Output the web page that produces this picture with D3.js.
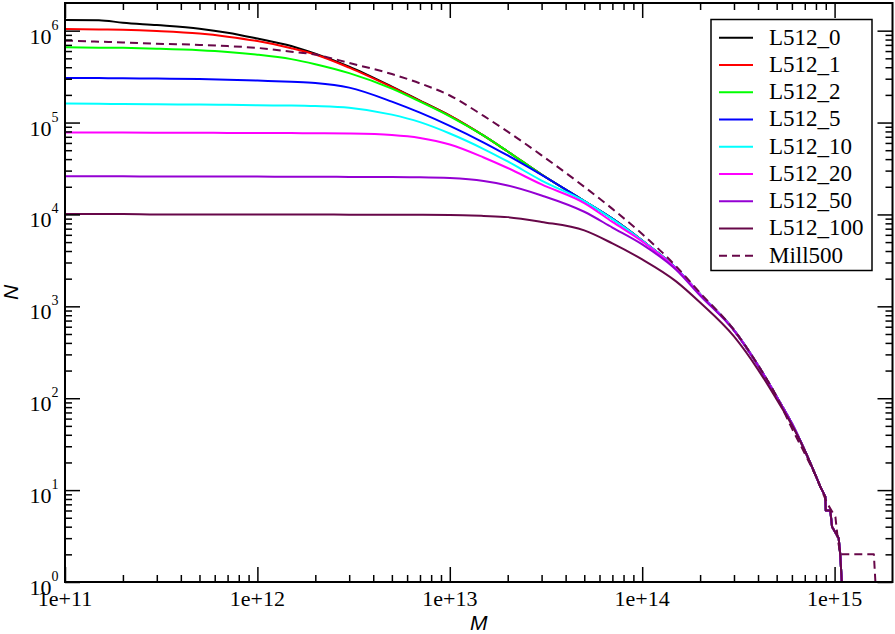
<!DOCTYPE html>
<html>
<head>
<meta charset="utf-8">
<script src="https://cdn.jsdelivr.net/npm/d3@7"></script>
<style>
  body { margin: 0; background: #fff; }
  .serif { font-family: "Liberation Serif", "Times New Roman", serif; }
  .sans { font-family: "Liberation Sans", Arial, sans-serif; font-style: italic; }
</style>
</head>
<body>
<div id="my_dataviz"></div>
<script>

// masses (x) shared by every run
var massGrid = [1e11, 1.5e11, 2e11, 3e11, 5e11, 7e11, 1e12, 1.5e12, 2e12, 3e12, 5e12, 7e12,
                1e13, 1.5e13, 2e13, 3e13, 5e13, 7e13, 1e14, 1.5e14, 2e14, 3e14, 4e14, 5e14,
                6e14, 7e14, 8e14];

// cumulative counts N(>M) for each run
var nL512_0   = [1.31e6, 1.30e6, 1.22e6, 1.15e6, 1.05e6, 9.5e5, 8.2e5, 6.8e5, 5.6e5, 4.06e5, 2.46e5, 1.73e5,
                 1.19e5, 7.2e4, 4.84e4, 2.72e4, 1.4e4, 9.0e3, 5.2e3, 2.6e3, 1.36e3, 550, 228, 104, 53, 27, 14.2];
var nL512_1   = [1.04e6, 1.03e6, 1.02e6, 9.9e5, 9.3e5, 8.6e5, 7.7e5, 6.45e5, 5.5e5, 3.96e5, 2.43e5, 1.72e5,
                 1.19e5, 7.2e4, 4.84e4, 2.72e4, 1.4e4, 9.0e3, 5.2e3, 2.6e3, 1.36e3, 550, 228, 104, 53, 27, 14.2];
var nL512_2   = [6.58e5, 6.53e5, 6.5e5, 6.37e5, 6.13e5, 5.87e5, 5.48e5, 4.9e5, 4.32e5, 3.45e5, 2.34e5, 1.69e5,
                 1.17e5, 7.2e4, 4.84e4, 2.72e4, 1.4e4, 9.0e3, 5.2e3, 2.6e3, 1.36e3, 550, 228, 104, 53, 27, 14.2];
var nL512_5   = [3.06e5, 3.05e5, 3.03e5, 3.01e5, 2.97e5, 2.93e5, 2.86e5, 2.78e5, 2.7e5, 2.4e5, 1.69e5, 1.28e5,
                 9.2e4, 6.06e4, 4.38e4, 2.69e4, 1.4e4, 9.0e3, 5.2e3, 2.6e3, 1.36e3, 550, 228, 104, 53, 27, 14.2];
var nL512_10  = [1.61e5, 1.6e5, 1.59e5, 1.58e5, 1.57e5, 1.56e5, 1.54e5, 1.53e5, 1.51e5, 1.45e5, 1.22e5, 1.01e5,
                 7.6e4, 5.15e4, 3.77e4, 2.34e4, 1.4e4, 8.9e3, 5.2e3, 2.6e3, 1.36e3, 550, 228, 104, 53, 27, 14.2];
var nL512_20  = [7.8e4, 7.8e4, 7.78e4, 7.76e4, 7.74e4, 7.72e4, 7.7e4, 7.68e4, 7.65e4, 7.59e4, 7.31e4, 6.79e4,
                 5.77e4, 4.17e4, 3.2e4, 2.12e4, 1.33e4, 8.3e3, 5.09e3, 2.58e3, 1.35e3, 550, 228, 104, 53, 27, 14.2];
var nL512_50  = [2.6e4, 2.6e4, 2.6e4, 2.59e4, 2.59e4, 2.58e4, 2.58e4, 2.57e4, 2.57e4, 2.56e4, 2.55e4, 2.54e4,
                 2.49e4, 2.31e4, 2.07e4, 1.61e4, 1.07e4, 7.2e3, 4.72e3, 2.5e3, 1.31e3, 545, 226, 103, 53, 27, 14.2];
var nL512_100 = [1.01e4, 1.01e4, 1.01e4, 1.0e4, 1.0e4, 1.0e4, 1.0e4, 9.98e3, 9.97e3, 9.95e3, 9.93e3, 9.9e3,
                 9.88e3, 9.63e3, 9.35e3, 8.28e3, 6.7e3, 4.84e3, 3.24e3, 1.87e3, 1.1e3, 470, 205, 97, 51, 27, 14.2];
var nMill500  = [7.79e5, 7.59e5, 7.45e5, 7.22e5, 7.0e5, 6.79e5, 6.49e5, 5.91e5, 5.5e5, 4.45e5, 3.37e5, 2.67e5,
                 1.97e5, 1.18e5, 7.96e4, 4.4e4, 2.0e4, 1.15e4, 6.12e3, 2.73e3, 1.4e3, 555, 230, 104, 47, 25, 14.2];

// high-mass tail (few haloes, step-like), common to the L512 runs
var tailMass = [8.43e14, 8.95e14, 9.0e14, 9.5e14, 9.7e14, 1.05e15, 1.07e15, 1.09e15];
var tailN    = [10.9, 8.5, 6, 6, 4, 3, 2, 1];
// tail of the Millennium run
var millTailMass = [9.14e14, 1.01e15, 1.04e15, 1.07e15, 1.6e15, 1.63e15];
var millTailN    = [7.2, 5.1, 2.9, 2, 2, 1];

var seriesNames  = ["L512_0", "L512_1", "L512_2", "L512_5", "L512_10", "L512_20", "L512_50", "L512_100", "Mill500"];
var seriesColors = ["#000000", "#ff0000", "#00ff00", "#0000ff", "#00ffff", "#ff00ff", "#9400d3", "#670748", "#670748"];
var seriesValues = [nL512_0, nL512_1, nL512_2, nL512_5, nL512_10, nL512_20, nL512_50, nL512_100, nMill500];

var xMajor = [1e11, 1e12, 1e13, 1e14, 1e15];
var xLabels = ["1e+11", "1e+12", "1e+13", "1e+14", "1e+15"];
var yMajor = [1, 10, 100, 1e3, 1e4, 1e5, 1e6];
var yExp = ["0", "1", "2", "3", "4", "5", "6"];

var W = 895, H = 634;
var plot = {left: 65, right: 892.5, top: 3, bottom: 582};

var svg = d3.select("#my_dataviz")
    .append("svg")
    .attr("width", W)
    .attr("height", H);

var x = d3.scaleLog().domain([1e11, 2e15]).range([plot.left, plot.right]);
var y = d3.scaleLog().domain([1, 2e6]).range([plot.bottom, plot.top]);

// minor ticks 2..9 in each decade
function minors(lo, hi) {
    var out = [];
    for (var e = lo; e <= hi; e++)
        for (var m = 2; m <= 9; m++)
            out.push(m * Math.pow(10, e));
    return out;
}
var xMinor = minors(11, 15).filter(function(v) { return v < 2e15; });
var yMinor = minors(0, 6).filter(function(v) { return v < 2e6; });

// clip for curves
svg.append("clipPath").attr("id", "clip")
    .append("rect")
    .attr("x", plot.left).attr("y", plot.top)
    .attr("width", plot.right - plot.left)
    .attr("height", plot.bottom - plot.top);

// smooth part (monotone in pixel space) + step-like tail (straight segments)
var smooth = d3.line()
    .x(function(d) { return x(d[0]); })
    .y(function(d) { return y(d[1]); })
    .curve(d3.curveMonotoneX);
var straight = d3.line()
    .x(function(d) { return x(d[0]); })
    .y(function(d) { return y(d[1]); });

var curves = svg.append("g").attr("clip-path", "url(#clip)");
seriesValues.forEach(function(vals, i) {
    var pts = massGrid.map(function(m, j) { return [m, vals[j]]; });
    var tm = i == 8 ? millTailMass : tailMass;
    var tn = i == 8 ? millTailN : tailN;
    var tail = [pts[pts.length - 1]];
    tm.forEach(function(m, j) { tail.push([m, tn[j]]); });
    var d = smooth(pts) + straight(tail).replace(/^M[^L]*/, "");
    curves.append("path")
        .attr("d", d)
        .style("fill", "none")
        .style("stroke", seriesColors[i])
        .style("stroke-width", 2)
        .style("stroke-linejoin", "round")
        .style("stroke-dasharray", i == 8 ? "8,5" : null);
});

// axes with inward ticks on all four sides
function axisStyle(g) {
    g.select(".domain").remove();
    g.selectAll(".tick line").style("stroke", "#000").style("stroke-width", 1.5);
}
svg.append("g").attr("transform", "translate(0," + plot.bottom + ")")
    .call(d3.axisBottom(x).tickValues(xMinor).tickSize(-7).tickFormat(""))
    .call(axisStyle);
svg.append("g").attr("transform", "translate(0," + plot.bottom + ")")
    .call(d3.axisBottom(x).tickValues(xMajor).tickSize(-15).tickFormat(""))
    .call(axisStyle);
svg.append("g").attr("transform", "translate(0," + plot.top + ")")
    .call(d3.axisTop(x).tickValues(xMinor).tickSize(-7).tickFormat(""))
    .call(axisStyle);
svg.append("g").attr("transform", "translate(0," + plot.top + ")")
    .call(d3.axisTop(x).tickValues(xMajor).tickSize(-15).tickFormat(""))
    .call(axisStyle);
svg.append("g").attr("transform", "translate(" + plot.left + ",0)")
    .call(d3.axisLeft(y).tickValues(yMinor).tickSize(-7).tickFormat(""))
    .call(axisStyle);
svg.append("g").attr("transform", "translate(" + plot.left + ",0)")
    .call(d3.axisLeft(y).tickValues(yMajor).tickSize(-15).tickFormat(""))
    .call(axisStyle);
svg.append("g").attr("transform", "translate(" + plot.right + ",0)")
    .call(d3.axisRight(y).tickValues(yMinor).tickSize(-7).tickFormat(""))
    .call(axisStyle);
svg.append("g").attr("transform", "translate(" + plot.right + ",0)")
    .call(d3.axisRight(y).tickValues(yMajor).tickSize(-15).tickFormat(""))
    .call(axisStyle);

// frame
svg.append("rect")
    .attr("x", plot.left).attr("y", plot.top)
    .attr("width", plot.right - plot.left)
    .attr("height", plot.bottom - plot.top)
    .style("fill", "none")
    .style("stroke", "#000")
    .style("stroke-width", 2);

// x tick labels
svg.selectAll(".xlab")
    .data(xMajor)
    .enter()
    .append("text")
    .attr("class", "serif")
    .attr("x", function(d) { return x(d); })
    .attr("y", 606)
    .attr("text-anchor", "middle")
    .style("font-size", "22px")
    .text(function(d, i) { return xLabels[i]; });

// y tick labels 10^k
var ylab = svg.selectAll(".ylab")
    .data(yMajor)
    .enter()
    .append("text")
    .attr("class", "serif")
    .attr("x", 58.5)
    .attr("y", function(d) { return y(d) + 13; })
    .attr("text-anchor", "end")
    .style("font-size", "22px");
ylab.append("tspan").text("10");
ylab.append("tspan")
    .attr("dy", -14)
    .style("font-size", "14px")
    .text(function(d, i) { return yExp[i]; });

// axis titles
svg.append("text")
    .attr("class", "sans")
    .attr("x", (plot.left + plot.right) / 2)
    .attr("y", 630)
    .attr("text-anchor", "middle")
    .style("font-size", "21px")
    .text("M");

svg.append("text")
    .attr("class", "sans")
    .attr("transform", "translate(18," + ((plot.top + plot.bottom) / 2) + ") rotate(-90)")
    .attr("text-anchor", "middle")
    .style("font-size", "21px")
    .text("N");

// legend
var legend = svg.append("g");
legend.append("rect")
    .attr("x", 711).attr("y", 19.5)
    .attr("width", 161).attr("height", 251)
    .style("fill", "#fff")
    .style("stroke", "#000")
    .style("stroke-width", 1.5);

seriesNames.forEach(function(name, i) {
    var ly = 37.7 + i * 27.25;
    legend.append("line")
        .attr("x1", 719).attr("x2", 753)
        .attr("y1", ly).attr("y2", ly)
        .style("stroke", seriesColors[i])
        .style("stroke-width", 2)
        .style("stroke-dasharray", i == 8 ? "8,5" : null);
    legend.append("text")
        .attr("class", "serif")
        .attr("x", 769)
        .attr("y", ly + 7)
        .style("font-size", "23px")
        .text(name);
});

</script>
</body>
</html>
